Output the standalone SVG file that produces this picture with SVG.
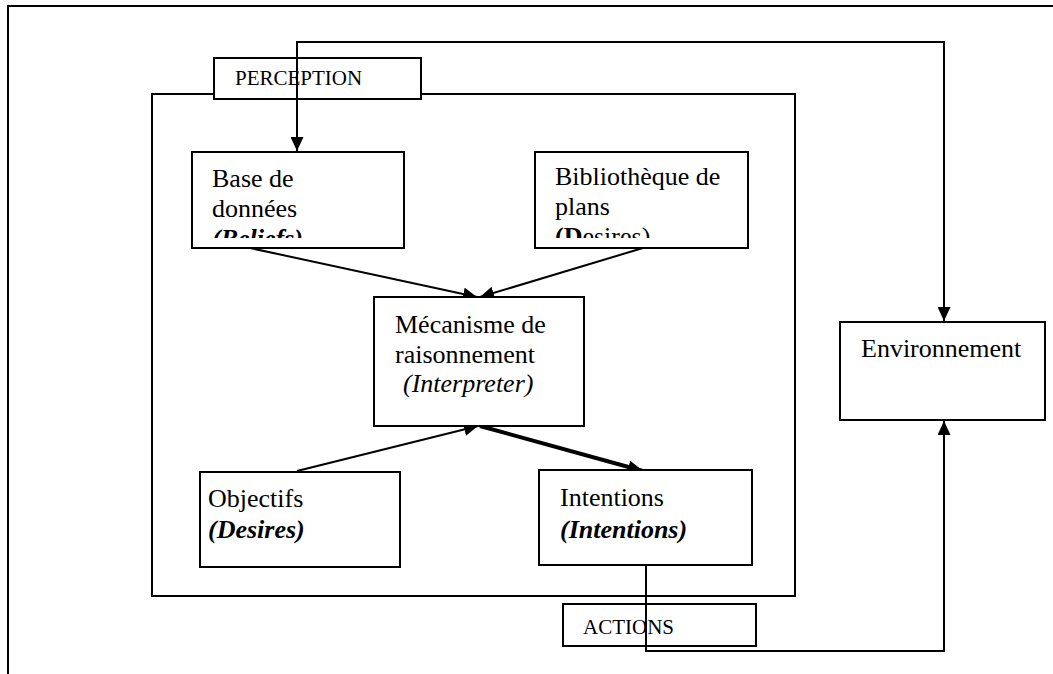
<svg xmlns="http://www.w3.org/2000/svg" width="1053" height="674" viewBox="0 0 1053 674">
<style>
.b{fill:#fff;stroke:#000;stroke-width:2}
.t{font-family:"Liberation Serif","Times New Roman",serif;font-size:26px;fill:#000}
.s{font-family:"Liberation Serif","Times New Roman",serif;font-size:21px;fill:#000}
.bi{font-weight:bold;font-style:italic}
.c{fill:none;stroke:#000;stroke-width:2}
.thick{stroke-width:4}
</style>
<defs>
<marker id="ah" markerWidth="14" markerHeight="13" refX="14" refY="6.5" orient="auto-start-reverse" markerUnits="userSpaceOnUse">
<path d="M0,0 L14,6.5 L0,13 Z" fill="#000"/>
</marker>
<marker id="ahb" markerWidth="15" markerHeight="13" refX="15" refY="6.5" orient="auto" markerUnits="userSpaceOnUse">
<path d="M0,0 L15,6.5 L0,13 Z" fill="#000"/>
</marker>
<clipPath id="cb"><rect x="192" y="152" width="212" height="86"/></clipPath>
<clipPath id="cp"><rect x="535" y="152" width="213" height="86"/></clipPath>
</defs>
<polyline class="c" points="8,674 8,6 1053,6"/>
<g id="agent"><rect class="b" x="152" y="94" width="643" height="502"/></g>
<g id="perception"><rect class="b" x="214" y="58" width="207" height="41" fill="none"/><text class="s" x="235" y="85">PERCEPTION</text></g>
<g id="actions"><rect class="b" x="563" y="604" width="193" height="42" fill="none"/><text class="s" x="583" y="634">ACTIONS</text></g>
<g id="connectors">
<polyline class="c" points="297,151 297,42 944,42 944,321" marker-start="url(#ah)" marker-end="url(#ah)"/>
<polyline class="c" points="646,565 646,651 944,651 944,421" marker-end="url(#ah)"/>
<line class="c" x1="250" y1="248" x2="477" y2="297" marker-end="url(#ah)"/>
<line class="c" x1="643" y1="248" x2="480" y2="297" marker-end="url(#ah)"/>
<line class="c" x1="297" y1="471" x2="478" y2="426" marker-end="url(#ah)"/>
<line class="c thick" x1="480" y1="426" x2="643" y2="471" marker-end="url(#ahb)"/>
</g>
<g id="base"><rect class="b" x="192" y="152" width="212" height="96" fill="none"/>
<g clip-path="url(#cb)"><text class="t" x="212" y="187">Base de</text><text class="t" x="212" y="217">données</text><text class="t bi" x="212" y="247">(Beliefs)</text></g></g>
<g id="biblio"><rect class="b" x="535" y="152" width="213" height="96" fill="none"/>
<g clip-path="url(#cp)"><text class="t" x="555" y="185">Bibliothèque de</text><text class="t" x="555" y="215">plans</text><text class="t" x="555" y="245"><tspan font-weight="bold">(D</tspan>esires)</text></g></g>
<g id="mecanisme"><rect class="b" x="374" y="297" width="210" height="129"/>
<text class="t" x="395" y="333">Mécanisme de</text><text class="t" x="395" y="363">raisonnement</text><text class="t" x="403" y="392" font-style="italic">(Interpreter)</text></g>
<g id="objectifs"><rect class="b" x="200" y="472" width="200" height="95"/>
<text class="t" x="208" y="507">Objectifs</text><text class="t bi" x="208" y="538">(Desires)</text></g>
<g id="intentions"><rect class="b" x="539" y="470" width="213" height="95"/>
<text class="t" x="560" y="506">Intentions</text><text class="t bi" x="560" y="538">(Intentions)</text></g>
<g id="environnement"><rect class="b" x="840" y="322" width="205" height="98"/>
<text class="t" x="861" y="357">Environnement</text></g>
</svg>
